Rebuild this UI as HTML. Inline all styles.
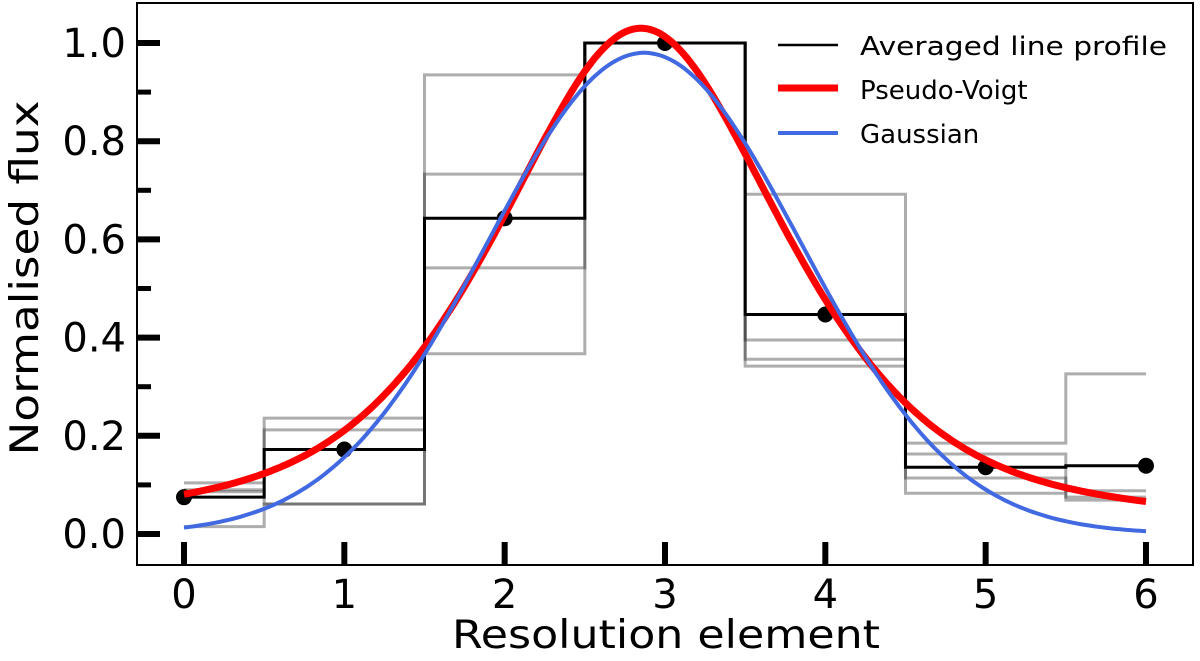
<!DOCTYPE html>
<html><head><meta charset="utf-8"><style>
body{margin:0;background:#fff}
svg{font-family:"DejaVu Sans","Liberation Sans",sans-serif}
</style></head><body>
<svg id="chart" width="1200" height="656">
<rect x="137" y="3" width="1056" height="562" fill="none" stroke="#000" stroke-width="2"/>
<g id="grays"></g>
<g id="avg"></g>
<g id="curves"></g>
<g id="axes"></g>
<text x="666" y="648" font-size="39" text-anchor="middle" textLength="428" lengthAdjust="spacingAndGlyphs">Resolution element</text>
<text transform="translate(38,278) rotate(-90)" font-size="39" text-anchor="middle" textLength="355" lengthAdjust="spacingAndGlyphs">Normalised flux</text>
<g>
<g><line x1="778" y1="45" x2="838" y2="45" stroke="#000" stroke-width="2.5"/><text x="860" y="55" font-size="26" textLength="307" lengthAdjust="spacingAndGlyphs">Averaged line profile</text></g>
<g><line x1="778" y1="88" x2="838" y2="88" stroke="#ff0000" stroke-width="7"/><text x="860" y="99" font-size="26">Pseudo-Voigt</text></g>
<g><line x1="778" y1="133" x2="838" y2="133" stroke="#4169e1" stroke-width="4"/><text x="860" y="143" font-size="26">Gaussian</text></g>
</g>
</svg>
<script>
const bins=[0,1,2,3,4,5,6];
const avgFlux=[0.075,0.172,0.643,1.0,0.447,0.136,0.139];
const gray1=[0.104,0.236,0.935,1.0,0.692,0.185,0.326];
const gray2=[0.086,0.212,0.733,1.0,0.395,0.163,0.088];
const gray3=[0.09,0.061,0.542,1.0,0.356,0.114,0.069];
const gray4=[0.015,0.061,0.367,1.0,0.342,0.083,0.075];
const pvParams=[1.03,2.85,1.08,0.6]; // amp, center, hwhm, eta
const gaussParams=[0.98,2.87,0.976]; // amp, center, sigma
const xTicks=[0,1,2,3,4,5,6];
const yTicks=[0,0.2,0.4,0.6,0.8,1.0];
const yTickLabels=["0.0","0.2","0.4","0.6","0.8","1.0"];
const yMinor=[0.1,0.3,0.5,0.7,0.9];

const NS="http://www.w3.org/2000/svg";
const X=v=>184+v*160.33, Y=v=>534-v*491;
function mk(tag,attrs,parent){const e=document.createElementNS(NS,tag);for(const k in attrs)e.setAttribute(k,attrs[k]);parent.appendChild(e);return e;}
function stepPath(vals){let d="";vals.forEach((v,i)=>{const x0=X(Math.max(bins[i]-0.5,0)),x1=X(Math.min(bins[i]+0.5,6));d+=(i===0?"M":"L")+x0+","+Y(v)+"L"+x1+","+Y(v);});return d;}
const gG=document.getElementById('grays');
[gray1,gray2,gray3,gray4].forEach((s,i)=>{
 const p=mk('path',{d:stepPath(s),fill:'none',stroke:'rgba(0,0,0,0.32)','stroke-width':3},gG);
 
 
});
const aG=document.getElementById('avg');
const ap=mk('path',{d:stepPath(avgFlux),fill:'none',stroke:'#000','stroke-width':3},aG);


avgFlux.forEach((v,i)=>{
 const c=mk('circle',{cx:X(bins[i]),cy:Y(v),r:8,fill:'#000'},aG);
 
 
});
function pv(x){const[a,c,h,e]=pvParams;const d=(x-c)/h;return a*(e/(1+d*d)+(1-e)*Math.exp(-Math.LN2*d*d));}
function ga(x){const[a,c,s]=gaussParams;return a*Math.exp(-(x-c)*(x-c)/(2*s*s));}
function curve(f){let d="";for(let i=0;i<=300;i++){const x=6*i/300;d+=(i?"L":"M")+X(x).toFixed(1)+","+Y(f(x)).toFixed(1);}return d;}
const cG=document.getElementById('curves');
const pr=mk('path',{d:curve(pv),fill:'none',stroke:'#ff0000','stroke-width':7},cG);


const gb=mk('path',{d:curve(ga),fill:'none',stroke:'#4169e1','stroke-width':4},cG);


const ax=document.getElementById('axes');
xTicks.forEach(t=>{
 const l=mk('line',{x1:X(t),x2:X(t),y1:565,y2:542,stroke:'#000','stroke-width':6},ax);
 
 
 const tx=mk('text',{x:X(t),y:608,'font-size':40,'text-anchor':'middle'},ax);tx.textContent=t;
 
 
});
yTicks.forEach((t,i)=>{
 const l=mk('line',{x1:137,x2:160,y1:Y(t),y2:Y(t),stroke:'#000','stroke-width':6},ax);
 
 
 const tx=mk('text',{x:126,y:Y(t)+14,'font-size':40,'text-anchor':'end'},ax);tx.textContent=yTickLabels[i];
 
 
});
yMinor.forEach(t=>{
 const l=mk('line',{x1:137,x2:151,y1:Y(t),y2:Y(t),stroke:'#000','stroke-width':5},ax);
 
 
});
</script>
</body></html>
